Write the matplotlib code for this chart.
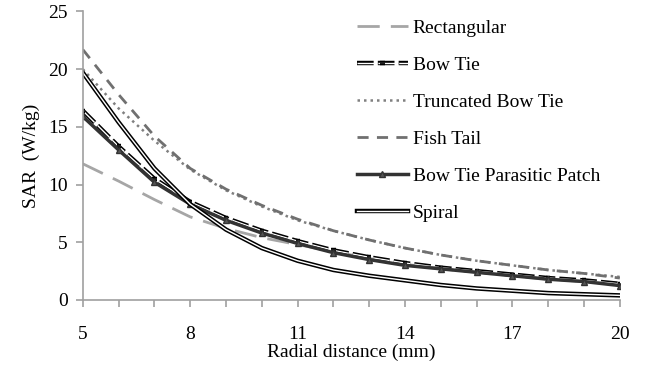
import matplotlib
matplotlib.use("Agg")
import matplotlib.pyplot as plt
import matplotlib.patheffects as pe
from matplotlib.ticker import MultipleLocator, FixedLocator

plt.rcParams['font.family'] = ['Liberation Serif', 'DejaVu Serif']

distance = list(range(5, 21))
x_ticks = [5, 8, 11, 14, 17, 20]
rectangular = [11.8, 10.3, 8.7, 7.2, 6.2, 5.4, 4.8, 4.2, 3.6, 3.1, 2.7, 2.4, 2.1, 1.8, 1.6, 1.3]
bow_tie = [16.4, 13.3, 10.5, 8.5, 7.1, 6.0, 5.1, 4.3, 3.7, 3.2, 2.8, 2.5, 2.2, 1.9, 1.7, 1.4]
truncated = [20.0, 16.6, 13.8, 11.3, 9.5, 8.1, 6.9, 6.0, 5.2, 4.5, 3.9, 3.4, 3.0, 2.6, 2.3, 2.0]
fish_tail = [21.7, 17.8, 14.2, 11.4, 9.6, 8.2, 7.0, 6.0, 5.2, 4.5, 3.9, 3.4, 3.0, 2.6, 2.3, 1.9]
parasitic = [15.9, 13.0, 10.2, 8.3, 6.9, 5.8, 4.9, 4.1, 3.5, 3.0, 2.7, 2.4, 2.1, 1.8, 1.6, 1.25]
spiral = [19.7, 15.4, 11.4, 8.3, 6.1, 4.5, 3.4, 2.6, 2.1, 1.7, 1.3, 1.0, 0.8, 0.6, 0.5, 0.4]

fig = plt.figure(figsize=(6.47, 3.69), dpi=100)
ax = fig.add_axes([0.128, 0.187, 0.83, 0.782])

double = [pe.Stroke(linewidth=3.2, foreground='black'), pe.Normal()]

ax.plot(distance, rectangular, color='#a6a6a6', lw=2, dashes=(8, 4), label='Rectangular')
ax.plot(distance, bow_tie, color='white', lw=1, dashes=(12, 3), marker='_', ms=3, mec='#222222', mew=1.2,
        path_effects=double, label='Bow Tie')
ax.plot(distance, truncated, color='#808080', lw=1.8, dashes=(1, 1.6), label='Truncated Bow Tie')
ax.plot(distance, fish_tail, color='#707070', lw=2, dashes=(4, 3), label='Fish Tail')
ax.plot(distance, parasitic, color='#333333', lw=2.5, marker='^', ms=5, mfc='#555555', mec='#333333',
        label='Bow Tie Parasitic Patch')
ax.plot(distance, spiral, color='white', lw=1, path_effects=double, label='Spiral')

ax.set_xlim(5, 20)
ax.set_ylim(0, 25)
ax.xaxis.set_major_locator(FixedLocator(x_ticks))
ax.xaxis.set_minor_locator(MultipleLocator(1))
ax.yaxis.set_major_locator(MultipleLocator(5))
for s in ['top', 'right']:
    ax.spines[s].set_visible(False)
for s in ['left', 'bottom']:
    ax.spines[s].set_color('#a0a0a0')
    ax.spines[s].set_linewidth(1.2)
ax.tick_params(axis='x', which='both', direction='out', length=5, color='#a0a0a0', width=1.2)
ax.tick_params(axis='x', which='major', pad=14, labelsize=14)
ax.tick_params(axis='y', direction='out', length=5, color='#a0a0a0', width=1.2, labelsize=14, pad=6)
ax.set_xlabel('Radial distance (mm)', fontsize=14, labelpad=0)
ax.set_ylabel('SAR  (W/kg)', fontsize=14, labelpad=6)

ax.legend(loc='upper left', bbox_to_anchor=(0.525, 0.995), bbox_transform=fig.transFigure, frameon=False,
          fontsize=14, handlelength=2.6, handletextpad=0.25, labelspacing=1.0)

fig.savefig('out.png', dpi=100)
